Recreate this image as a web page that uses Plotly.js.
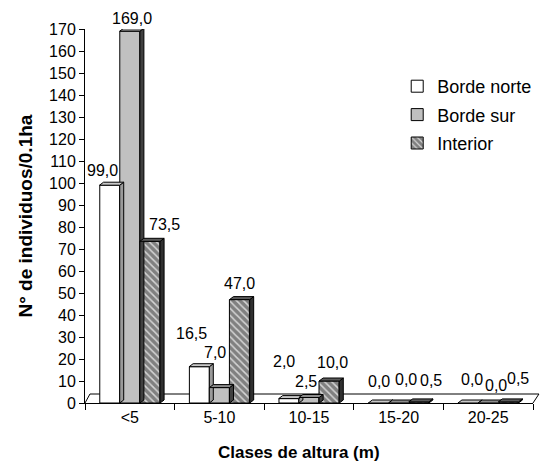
<!DOCTYPE html>
<html><head><meta charset="utf-8">
<script src="https://cdn.plot.ly/plotly-3.0.1.min.js"></script>
<style>body{margin:0;background:#fff}#c{width:549px;height:465px}</style>
</head><body><div id="c"></div>
<script>
// ---- data ----
const categories = ['<5', '5-10', '10-15', '15-20', '20-25'];
const bordeNorte = [99.0, 16.5, 2.0, 0.0, 0.0];
const bordeSur = [169.0, 7.0, 2.5, 0.0, 0.0];
const interior = [73.5, 47.0, 10.0, 0.5, 0.5];
const seriesNames = ['Borde norte', 'Borde sur', 'Interior'];
const xTitle = 'Clases de altura (m)';
const yTitle = 'N° de individuos/0.1ha';

// ---- styling / layout constants ----
const FAM = '"Liberation Sans", Arial, sans-serif';
const M = {l: 85, r: 12, t: 29, b: 62};
const W = 549, H = 465;
const plotW = W - M.l - M.r, plotH = H - M.t - M.b;
const yMax = 170;
const barGap = 0.33;
const catW = plotW / categories.length;
const bw = catW * (1 - barGap) / 3;
const unitsPerPx = yMax / plotH;
const depthX = 4, depthY = 3;
const fills = ['#ffffff', '#c0c0c0', '#808080'];
const capFills = ['#c8c8c8', '#8c8c8c', '#5a5a5a'];
const sideFills = ['#9a9a9a', '#404040', '#303030'];
// label nudges (pixels) relative to bar centre / top, per series per category
const labelDx = [[-7, -8, -5, 1, 4], [2, -4, -3, 7, 8], [15, 0, 3, 12, 10]];
const labelDy = [[15, 33, 37, 22, 24], [13, 35, 16, 24, 18], [17, 16, 19, 21, 23]];

const series = [bordeNorte, bordeSur, interior];
const data = series.map((vals, i) => {
  const marker = {color: fills[i], line: {color: '#000', width: 1}};
  if (i === 2) marker.pattern = {shape: '\\', fgcolor: '#d4d4d4', bgcolor: '#808080', size: 5, solidity: 0.3, fillmode: 'replace'};
  return {type: 'bar', name: seriesNames[i], x: categories, y: vals, marker: marker,
    legendgroup: 'g' + i, hoverinfo: 'none'};
});

const shapes = [];
const annotations = [];
series.forEach((vals, i) => {
  const xoff = (i - 1) * bw;
  const xL = xoff - bw / 2, xR = xoff + bw / 2;
  const e = depthY * unitsPerPx;
  vals.forEach((v, k) => {
    shapes.push({type: 'path', xref: 'x', yref: 'y', xsizemode: 'pixel', xanchor: k, layer: 'above',
      path: `M${xR},${v} L${xR + depthX},${v + e} L${xR + depthX},${e} L${xR},0 Z`,
      fillcolor: sideFills[i], line: {color: '#000', width: 1}});
    shapes.push({type: 'path', xref: 'x', yref: 'y', xsizemode: 'pixel', xanchor: k, layer: 'above',
      path: `M${xL},${v} L${xL + depthX},${v + e} L${xR + depthX},${v + e} L${xR},${v} Z`,
      fillcolor: capFills[i], line: {color: '#000', width: 1}});
    annotations.push({xref: 'x', yref: 'y', x: k, y: v, xanchor: 'center', yanchor: 'middle',
      xshift: xoff + labelDx[i][k], yshift: labelDy[i][k], showarrow: false,
      text: v.toFixed(1).replace('.', ','), font: {family: FAM, size: 16, color: '#000'}});
  });
});
const px = p => (p - M.l) / plotW, py = p => (H - M.b - p) / plotH;
shapes.push({type: 'path', xref: 'paper', yref: 'paper', layer: 'below',
  path: `M0,0 L${px(90)},${py(394)} L${px(543)},${py(394)} L1,0`,
  line: {color: '#000', width: 1}});

annotations.push({xref: 'paper', yref: 'paper', x: px(301), y: py(452), xanchor: 'center', yanchor: 'middle',
  showarrow: false, text: xTitle, font: {family: FAM, size: 17, color: '#000', weight: 'bold'}});
annotations.push({xref: 'paper', yref: 'paper', x: px(24), y: py(216), xanchor: 'center', yanchor: 'middle',
  textangle: -90, showarrow: false, text: yTitle, font: {family: FAM, size: 19, color: '#000', weight: 'bold'}});

const layout = {
  width: W, height: H, margin: M,
  paper_bgcolor: '#fff', plot_bgcolor: 'rgba(0,0,0,0)',
  font: {family: FAM, size: 16, color: '#000'},
  barmode: 'group', bargap: barGap, bargroupgap: 0,
  showlegend: true,
  legend: {x: px(400), y: py(68), xanchor: 'left', yanchor: 'top', font: {family: FAM, size: 18, color: '#000'},
    traceorder: 'grouped', tracegroupgap: 2, bgcolor: 'rgba(0,0,0,0)'},
  xaxis: {type: 'category', showline: true, linecolor: '#000', linewidth: 1, ticks: 'outside', tickson: 'boundaries',
    ticklen: 6, tickcolor: '#000', showgrid: false, tickfont: {family: FAM, size: 16, color: '#000'}},
  yaxis: {range: [0, yMax], dtick: 10, showline: true, linecolor: '#000', ticks: 'outside', ticklen: 5, tickcolor: '#000',
    showgrid: false, zeroline: false, tickfont: {family: FAM, size: 16, color: '#000'}},
  shapes: shapes, annotations: annotations
};
Plotly.newPlot('c', data, layout, {displayModeBar: false, staticPlot: true});
</script></body></html>
